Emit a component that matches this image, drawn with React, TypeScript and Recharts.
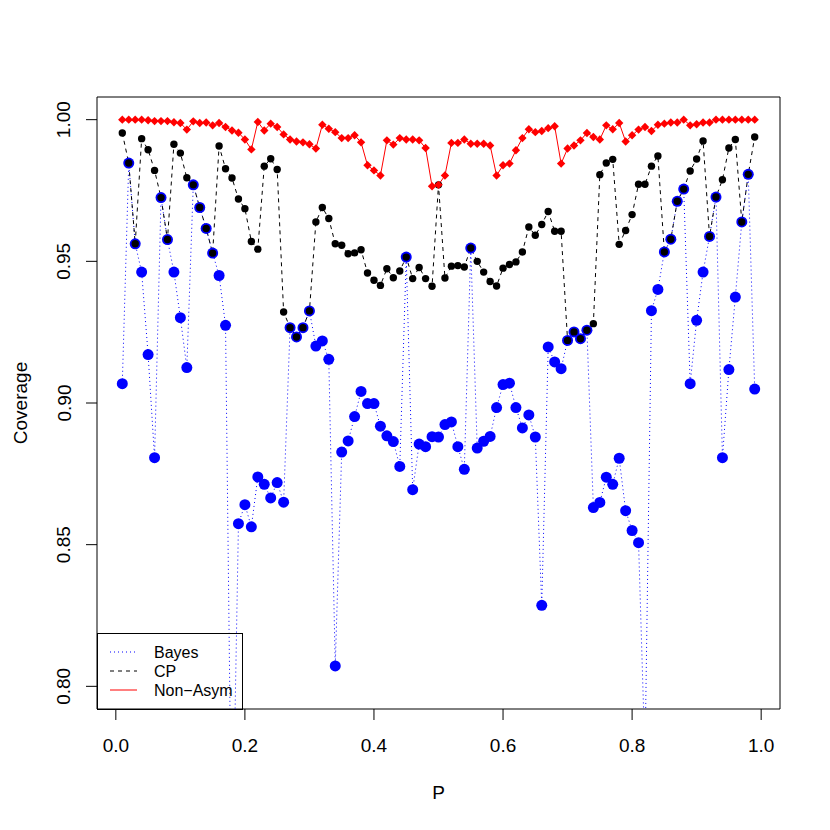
import React from 'react';
import {
  ComposedChart,
  Line,
  XAxis,
  YAxis,
  Legend,
  ReferenceArea,
} from 'recharts';

// proportion p, 0.01 .. 0.99
const P = [
  0.01, 0.02, 0.03, 0.04, 0.05, 0.06, 0.07, 0.08, 0.09, 0.1,
  0.11, 0.12, 0.13, 0.14, 0.15, 0.16, 0.17, 0.18, 0.19, 0.2,
  0.21, 0.22, 0.23, 0.24, 0.25, 0.26, 0.27, 0.28, 0.29, 0.3,
  0.31, 0.32, 0.33, 0.34, 0.35, 0.36, 0.37, 0.38, 0.39, 0.4,
  0.41, 0.42, 0.43, 0.44, 0.45, 0.46, 0.47, 0.48, 0.49, 0.5,
  0.51, 0.52, 0.53, 0.54, 0.55, 0.56, 0.57, 0.58, 0.59, 0.6,
  0.61, 0.62, 0.63, 0.64, 0.65, 0.66, 0.67, 0.68, 0.69, 0.7,
  0.71, 0.72, 0.73, 0.74, 0.75, 0.76, 0.77, 0.78, 0.79, 0.8,
  0.81, 0.82, 0.83, 0.84, 0.85, 0.86, 0.87, 0.88, 0.89, 0.9,
  0.91, 0.92, 0.93, 0.94, 0.95, 0.96, 0.97, 0.98, 0.99,
];

const BAYES = [
  0.9068, 0.9847, 0.9562, 0.9462, 0.9171, 0.8807, 0.9725, 0.9577, 0.9462, 0.9301,
  0.9125, 0.977, 0.969, 0.9616, 0.9529, 0.945, 0.9274, 0.73, 0.8574, 0.8641,
  0.8563, 0.8739, 0.8713, 0.8665, 0.8719, 0.865, 0.9266, 0.9233, 0.9266, 0.9325,
  0.9201, 0.9219, 0.9154, 0.8072, 0.8827, 0.8866, 0.8952, 0.9041, 0.8998, 0.8998,
  0.8918, 0.8884, 0.8864, 0.8776, 0.9515, 0.8694, 0.8855, 0.8846, 0.8881, 0.888,
  0.8924, 0.8933, 0.8846, 0.8766, 0.9547, 0.8841, 0.8865, 0.8882, 0.8984, 0.9065,
  0.907, 0.8984, 0.8912, 0.8958, 0.888, 0.8286, 0.9198, 0.9145, 0.9121, 0.9221,
  0.9251, 0.9227, 0.9257, 0.8631, 0.8649, 0.8738, 0.8713, 0.8805, 0.862, 0.855,
  0.8507, 0.775, 0.9326, 0.9401, 0.9533, 0.9578, 0.9712, 0.9755, 0.9068, 0.9292,
  0.9462, 0.9588, 0.9727, 0.8807, 0.9118, 0.9374, 0.9639, 0.9807, 0.9049,
];

const CP = [
  0.9953, 0.9847, 0.9562, 0.9933, 0.9894, 0.9821, 0.9725, 0.9577, 0.9913, 0.9882,
  0.9795, 0.977, 0.969, 0.9616, 0.9529, 0.9907, 0.9827, 0.9794, 0.972, 0.9686,
  0.957, 0.9543, 0.9836, 0.9862, 0.9824, 0.9321, 0.9266, 0.9233, 0.9266, 0.9325,
  0.9639, 0.969, 0.9651, 0.9562, 0.9557, 0.9527, 0.953, 0.9541, 0.9459, 0.9433,
  0.9415, 0.9474, 0.9442, 0.9466, 0.9515, 0.9439, 0.9478, 0.9439, 0.9412, 0.977,
  0.9441, 0.9483, 0.9485, 0.948, 0.9547, 0.95, 0.9462, 0.9429, 0.9413, 0.9476,
  0.9489, 0.9498, 0.9533, 0.9621, 0.9592, 0.963, 0.9676, 0.9606, 0.9606, 0.9221,
  0.9251, 0.9227, 0.9257, 0.928, 0.9806, 0.9847, 0.986, 0.956, 0.9609, 0.9665,
  0.9772, 0.9772, 0.9836, 0.9872, 0.9533, 0.9578, 0.9712, 0.9755, 0.9819, 0.9861,
  0.9925, 0.9588, 0.9727, 0.9788, 0.99, 0.993, 0.9639, 0.9807, 0.9939,
];

const NON_ASYM = [
  1.0, 1.0, 1.0, 1.0, 0.9998, 0.9995, 0.9995, 0.9995, 0.9991, 0.9988,
  0.9965, 0.9994, 0.9988, 0.999, 0.998, 0.9988, 0.9974, 0.9962, 0.9954, 0.993,
  0.9895, 0.9992, 0.9962, 0.9986, 0.9974, 0.9948, 0.993, 0.9923, 0.992, 0.9913,
  0.9898, 0.9982, 0.9968, 0.9956, 0.9935, 0.9935, 0.9945, 0.992, 0.9839, 0.9821,
  0.9803, 0.9927, 0.9912, 0.9935, 0.993, 0.993, 0.9927, 0.99, 0.9765, 0.977,
  0.9803, 0.9918, 0.9918, 0.993, 0.9915, 0.9915, 0.9915, 0.9909, 0.9803, 0.9839,
  0.9845, 0.9892, 0.9935, 0.9966, 0.9956, 0.996, 0.997, 0.9977, 0.9845, 0.9898,
  0.9909, 0.9927, 0.9953, 0.9939, 0.993, 0.998, 0.9966, 0.9988, 0.9923, 0.9945,
  0.9965, 0.9974, 0.996, 0.9982, 0.9986, 0.999, 0.999, 1.0, 0.998, 0.9984,
  0.999, 0.999, 1.0, 1.0, 1.0, 1.0, 1.0, 1.0, 1.0,
];

const X_TICKS = [0, 0.2, 0.4, 0.6, 0.8, 1.0];
const Y_TICKS = [0.8, 0.85, 0.9, 0.95, 1.0];

const X_DOMAIN: [number, number] = [-0.0292, 1.0292];
const Y_DOMAIN: [number, number] = [0.792, 1.008];

const FONT = '"Liberation Sans", Arial, Helvetica, sans-serif';
const BLUE = '#0000FF';
const RED = '#FF0000';

const data = P.map((p, i) => ({
  p,
  bayes: BAYES[i],
  cp: CP[i],
  nonAsym: NON_ASYM[i],
}));

const XTick = ({ x, y, payload }: any) => (
  <text x={x} y={y + 30} textAnchor="middle" fontSize={19} fontFamily={FONT} fill="#000">
    {payload.value.toFixed(1)}
  </text>
);

const YTick = ({ x, y, payload }: any) => (
  <text
    x={x - 13.5}
    y={y}
    transform={`rotate(-90 ${x - 13.5} ${y})`}
    textAnchor="middle"
    fontSize={19}
    fontFamily={FONT}
    fill="#000"
  >
    {payload.value.toFixed(2)}
  </text>
);

const Diamond = (props: any) => {
  const { cx, cy, index } = props;
  if (cx == null || cy == null) return <g key={`d-${index}`} />;
  const s = 4.2;
  return (
    <polygon
      key={`d-${index}`}
      points={`${cx},${cy - s} ${cx + s},${cy} ${cx},${cy + s} ${cx - s},${cy}`}
      fill={RED}
    />
  );
};

const LEGEND_ITEMS = [
  { label: 'Bayes', color: BLUE, dash: '1 3' },
  { label: 'CP', color: '#000', dash: '4 4' },
  { label: 'Non\u2212Asym', color: RED, dash: undefined },
];

const LegendBox = () => (
  <svg width={146} height={77} style={{ display: 'block' }}>
    <rect x={0.5} y={0.5} width={145} height={76} fill="none" stroke="#000" />
    {LEGEND_ITEMS.map((it, i) => (
      <g key={it.label}>
        <line
          x1={13}
          x2={40}
          y1={19 + i * 19}
          y2={19 + i * 19}
          stroke={it.color}
          strokeDasharray={it.dash}
        />
        <text x={57} y={25 + i * 19} fontSize={16} fontFamily={FONT} fill="#000">
          {it.label}
        </text>
      </g>
    ))}
  </svg>
);

export default function App() {
  return (
    <div style={{ position: 'absolute', left: 0, top: 0, width: 830, height: 830, background: '#fff' }}>
      <ComposedChart
        width={830}
        height={830}
        data={data}
        margin={{ top: 97, right: 50, left: 0, bottom: 0 }}
      >
        <XAxis
          type="number"
          dataKey="p"
          domain={X_DOMAIN}
          ticks={X_TICKS}
          allowDataOverflow
          axisLine={false}
          tickSize={11}
          stroke="#000"
          tick={<XTick />}
          height={121}
          label={({ viewBox }: any) => (
            <text
              x={viewBox.x + viewBox.width / 2}
              y={799}
              textAnchor="middle"
              fontSize={19}
              fontFamily={FONT}
              fill="#000"
            >
              P
            </text>
          )}
        />
        <YAxis
          type="number"
          domain={Y_DOMAIN}
          ticks={Y_TICKS}
          allowDataOverflow
          axisLine={false}
          tickSize={11}
          stroke="#000"
          tick={<YTick />}
          width={97}
          label={({ viewBox }: any) => {
            const cy = viewBox.y + viewBox.height / 2;
            return (
              <text
                x={27}
                y={cy}
                transform={`rotate(-90 27 ${cy})`}
                textAnchor="middle"
                fontSize={19}
                fontFamily={FONT}
                fill="#000"
              >
                Coverage
              </text>
            );
          }}
        />
        <ReferenceArea
          x1={X_DOMAIN[0]}
          x2={X_DOMAIN[1]}
          y1={Y_DOMAIN[0]}
          y2={Y_DOMAIN[1]}
          fill="none"
          stroke="#000"
          strokeWidth={1}
          ifOverflow="visible"
        />
        <Line
          dataKey="bayes"
          type="linear"
          stroke={BLUE}
          strokeWidth={1}
          strokeDasharray="1 3"
          dot={{ r: 5.5, fill: BLUE, stroke: 'none' }}
          activeDot={false}
          isAnimationActive={false}
        />
        <Line
          dataKey="cp"
          type="linear"
          stroke="#000"
          strokeWidth={1}
          strokeDasharray="4 4"
          dot={{ r: 3.7, fill: '#000', stroke: 'none' }}
          activeDot={false}
          isAnimationActive={false}
        />
        <Line
          dataKey="nonAsym"
          type="linear"
          stroke={RED}
          strokeWidth={1}
          dot={<Diamond />}
          activeDot={false}
          isAnimationActive={false}
        />
        <Legend
          layout="horizontal"
          align="center"
          verticalAlign="middle"
          wrapperStyle={{ position: 'absolute', left: 97, top: 633, width: 146, height: 77 }}
          content={() => <LegendBox />}
        />
      </ComposedChart>
    </div>
  );
}
